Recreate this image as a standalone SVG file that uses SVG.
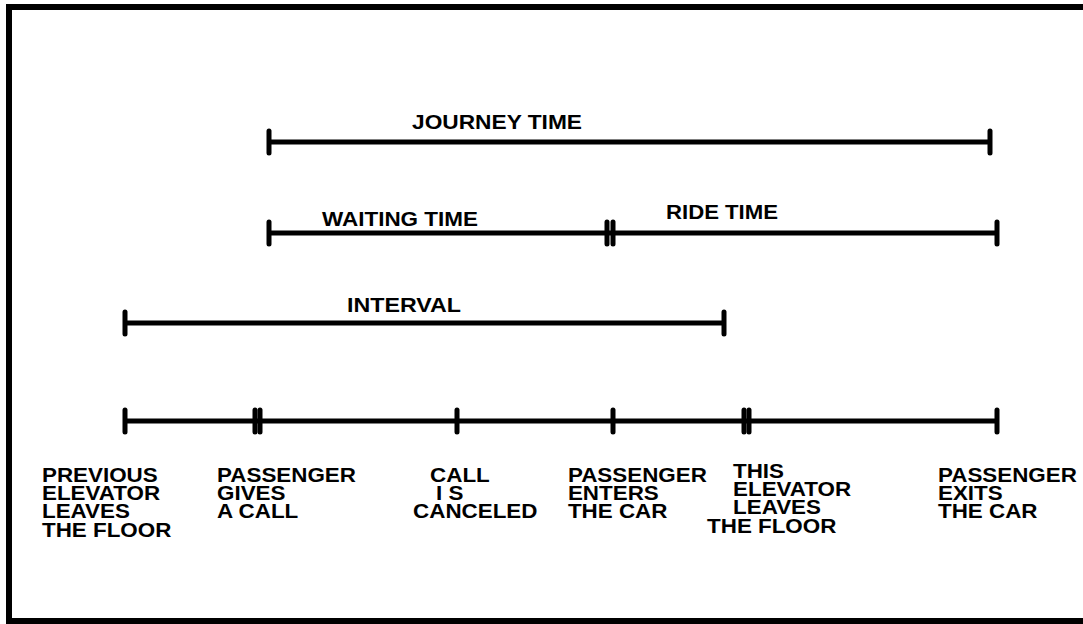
<svg xmlns="http://www.w3.org/2000/svg" width="1083" height="624" viewBox="0 0 1083 624">
<style>
.ln{stroke:#000;stroke-width:5;fill:none}
.tk{stroke:#000;stroke-width:5;stroke-linecap:round;fill:none}
.t{font-family:"Liberation Sans",Arial,sans-serif;font-weight:bold;font-size:20px;fill:#000}
</style>
<rect width="1083" height="624" fill="#fff"/>
<path d="M1090 7 H9 V621 H1090" stroke="#000" stroke-width="6" fill="none"/>
<g id="connectors">
<line class="ln" x1="269" y1="142" x2="990" y2="142"/>
<line class="tk" x1="269" y1="131" x2="269" y2="153"/>
<line class="tk" x1="990" y1="131" x2="990" y2="153"/>
<line class="ln" x1="269" y1="233" x2="997" y2="233"/>
<line class="tk" x1="269" y1="222" x2="269" y2="244"/>
<line class="tk" x1="607" y1="222" x2="607" y2="244"/>
<line class="tk" x1="613" y1="222" x2="613" y2="244"/>
<line class="tk" x1="997" y1="222" x2="997" y2="244"/>
<line class="ln" x1="125" y1="323" x2="724" y2="323"/>
<line class="tk" x1="125" y1="312" x2="125" y2="334"/>
<line class="tk" x1="724" y1="312" x2="724" y2="334"/>
<line class="ln" x1="125" y1="421" x2="997" y2="421"/>
<line class="tk" x1="125" y1="410" x2="125" y2="432"/>
<line class="tk" x1="255" y1="410" x2="255" y2="432"/>
<line class="tk" x1="260" y1="410" x2="260" y2="432"/>
<line class="tk" x1="457" y1="410" x2="457" y2="432"/>
<line class="tk" x1="613" y1="410" x2="613" y2="432"/>
<line class="tk" x1="744" y1="410" x2="744" y2="432"/>
<line class="tk" x1="749" y1="410" x2="749" y2="432"/>
<line class="tk" x1="997" y1="410" x2="997" y2="432"/>
</g>
<g id="journey"><text class="t" x="412" y="129" textLength="170" lengthAdjust="spacingAndGlyphs">JOURNEY TIME</text></g>
<g id="waiting"><text class="t" x="322" y="226" textLength="156" lengthAdjust="spacingAndGlyphs">WAITING TIME</text></g>
<g id="ride"><text class="t" x="666" y="219" textLength="112" lengthAdjust="spacingAndGlyphs">RIDE TIME</text></g>
<g id="interval"><text class="t" x="347" y="312" textLength="114" lengthAdjust="spacingAndGlyphs">INTERVAL</text></g>
<g transform="scale(1.12 1)">
<g id="prev">
<text class="t" x="37.5" y="482">PREVIOUS</text>
<text class="t" x="37.5" y="500">ELEVATOR</text>
<text class="t" x="37.5" y="518">LEAVES</text>
<text class="t" x="37.5" y="537">THE FLOOR</text>
</g>
<g id="call">
<text class="t" x="193.8" y="482">PASSENGER</text>
<text class="t" x="193.8" y="500">GIVES</text>
<text class="t" x="193.8" y="518">A CALL</text>
</g>
<g id="cancel">
<text class="t" x="384" y="482">CALL</text>
<text class="t" x="389.3" y="500">I S</text>
<text class="t" x="368.8" y="518">CANCELED</text>
</g>
<g id="enter">
<text class="t" x="507.1" y="482">PASSENGER</text>
<text class="t" x="507.1" y="500">ENTERS</text>
<text class="t" x="507.1" y="518">THE CAR</text>
</g>
<g id="leave">
<text class="t" x="654.5" y="478">THIS</text>
<text class="t" x="654.5" y="496">ELEVATOR</text>
<text class="t" x="654.5" y="514">LEAVES</text>
<text class="t" x="631.3" y="533">THE FLOOR</text>
</g>
<g id="exit">
<text class="t" x="837.5" y="482">PASSENGER</text>
<text class="t" x="837.5" y="500">EXITS</text>
<text class="t" x="837.5" y="518">THE CAR</text>
</g>
</g>
</svg>
